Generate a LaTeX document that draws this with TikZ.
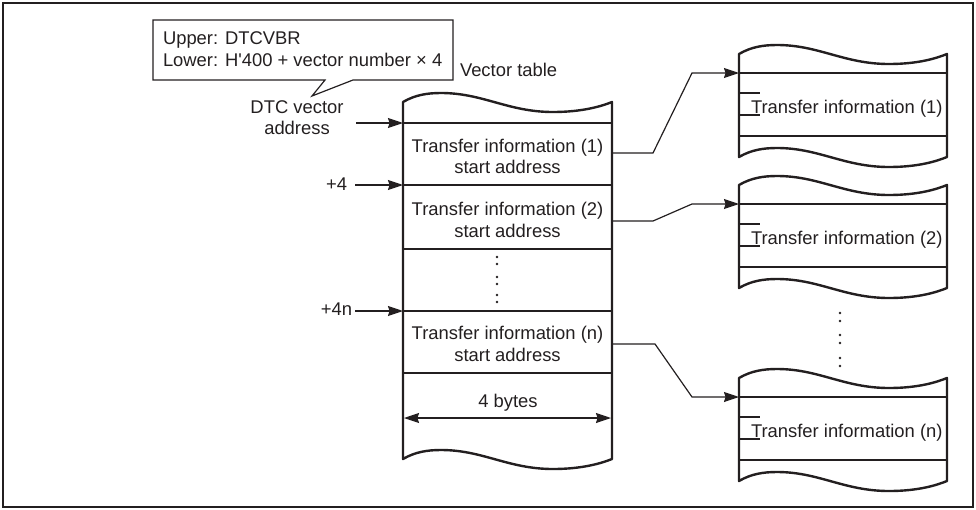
\documentclass[tikz,border=0pt]{standalone}
\usepackage{fontspec}
\setmainfont{Liberation Sans}
\usetikzlibrary{arrows.meta}
\definecolor{ink}{HTML}{231F20}
% wavy-edged memory block: #1 left x, #2 top-left y, #3 bottom-left y, #4 width
\newcommand{\wvbox}[4]{%
\draw[outline] ({#1},{#2}) .. controls ({#1+12},{#2-7}) and ({#1+24},{#2-9}) .. ({#1+38},{#2-9})
 .. controls ({#1+80},{#2-9}) and ({#1+105},{#2+10}) .. ({#1+150},{#2+10})
 .. controls ({#1+180},{#2+10}) and ({#1+#4-10},{#2+4}) .. ({#1+#4},{#2})
 -- ({#1+#4},{#3})
 .. controls ({#1+#4-10},{#3+4}) and ({#1+180},{#3+10}) .. ({#1+150},{#3+10})
 .. controls ({#1+105},{#3+10}) and ({#1+80},{#3-9}) .. ({#1+38},{#3-9})
 .. controls ({#1+24},{#3-9}) and ({#1+12},{#3-7}) .. ({#1},{#3}) -- cycle;}
\begin{document}
\begin{tikzpicture}[x=1pt,y=-1pt,color=ink,
  font=\fontsize{18.4}{21.5}\selectfont,
  border/.style={line width=2.3pt},
  outline/.style={line width=2.4pt,line join=round},
  thinl/.style={line width=1.2pt},
  txt/.style={inner sep=0pt,outer sep=0pt},
  rowbox/.style={inner sep=0pt,outer sep=0pt,minimum width=209pt},
  drow/.style={inner sep=0pt,outer sep=0pt,minimum width=208pt,minimum height=63pt},
  arr/.style={line width=1.2pt,-{Stealth[length=15pt,width=10pt,inset=1.5pt]}},
  dblarr/.style={line width=1.2pt,{Stealth[length=15pt,width=10pt,inset=1.5pt]}-{Stealth[length=15pt,width=10pt,inset=1.5pt]}}]
\useasboundingbox (0,0) rectangle (976,509);
\draw[border] (3,3) rectangle (973,507);

% callout
\draw[thinl] (153,20) -- (453,20) -- (453,80) -- (353,80) -- (312,96) -- (325,80) -- (153,80) -- cycle;
\node[txt,anchor=base west] (up) at (163,44) {Upper: DTCVBR};
\node[txt,anchor=base west] (low) at (163,66) {Lower: H\textquotesingle 400 + vector number × 4};

% vector table
\wvbox{403}{102}{459}{209}
\foreach \y in {123,185,249,311,373} \draw[thinl] (403,\y) -- (612,\y);
\node[rowbox,minimum height=62pt] (vt1) at (507.5,154) {};
\node[rowbox,minimum height=64pt] (vt2) at (507.5,217) {};
\node[rowbox,minimum height=62pt] (vtn) at (507.5,342) {};
\node[txt,align=center] (vt1t) at (507.5,156.5) {Transfer information (1)\\start address};
\node[txt,align=center] (vt2t) at (507.5,220) {Transfer information (2)\\start address};
\node[txt,align=center] (vtnt) at (507.5,344) {Transfer information (n)\\start address};
\foreach \y in {257,264,277,284,295,302} \fill (497,\y) circle[radius=1.3pt];
\node[txt,anchor=base west] (vtl) at (460,76) {Vector table};
\node[txt,anchor=base] (bytes) at (508,407) {4 bytes};
\coordinate (bl) at (404,418);
\coordinate (br) at (611,418);
\draw[dblarr] (bl) -- (br);

% left labels and arrows
\node[txt,anchor=base] (dtc1) at (297,113) {DTC vector};
\node[txt,anchor=base] (dtc2) at (297,134) {address};
\node[txt,anchor=base east] (p4) at (347,190) {+4};
\node[txt,anchor=base east] (p4n) at (352,315) {+4n};
\draw[arr] ([xshift=-47pt]vt1.north west) -- (vt1.north west);
\draw[arr] ([xshift=-48pt]vt2.north west) -- (vt2.north west);
\draw[arr] ([xshift=-48pt]vtn.north west) -- (vtn.north west);

% transfer information blocks
\wvbox{739}{54}{157}{208}
\wvbox{739}{185}{288}{208}
\wvbox{739}{378}{481}{208}
\foreach \y in {73,136,204,267,397,460} \draw[thinl] (739,\y) -- (947,\y);
\node[drow] (d1) at (843,104.5) {};
\node[drow] (d2) at (843,235.5) {};
\node[drow] (dn) at (843,428.5) {};
\node[txt,anchor=base west] (d1t) at (751,113) {Transfer information (1)};
\node[txt,anchor=base west] (d2t) at (751,244) {Transfer information (2)};
\node[txt,anchor=base west] (dnt) at (751,437) {Transfer information (n)};
\foreach \y in {93,115,224,246,417,439} \draw[thinl] (739,\y) -- (760,\y);
\foreach \y in {313,321,335,343,358,366} \fill (840,\y) circle[radius=1.3pt];

% connectors
\draw[arr] ([yshift=1pt]vt1.east) -- ++(41,0) -- ([xshift=-47pt]d1.north west) -- (d1.north west);
\draw[arr] ([yshift=-4pt]vt2.east) -- ++(41,0) -- ([xshift=-47pt]d2.north west) -- (d2.north west);
\draw[arr] ([yshift=-2pt]vtn.east) -- ++(43,0) -- ([xshift=-47pt]dn.north west) -- (dn.north west);
\end{tikzpicture}
\end{document}
